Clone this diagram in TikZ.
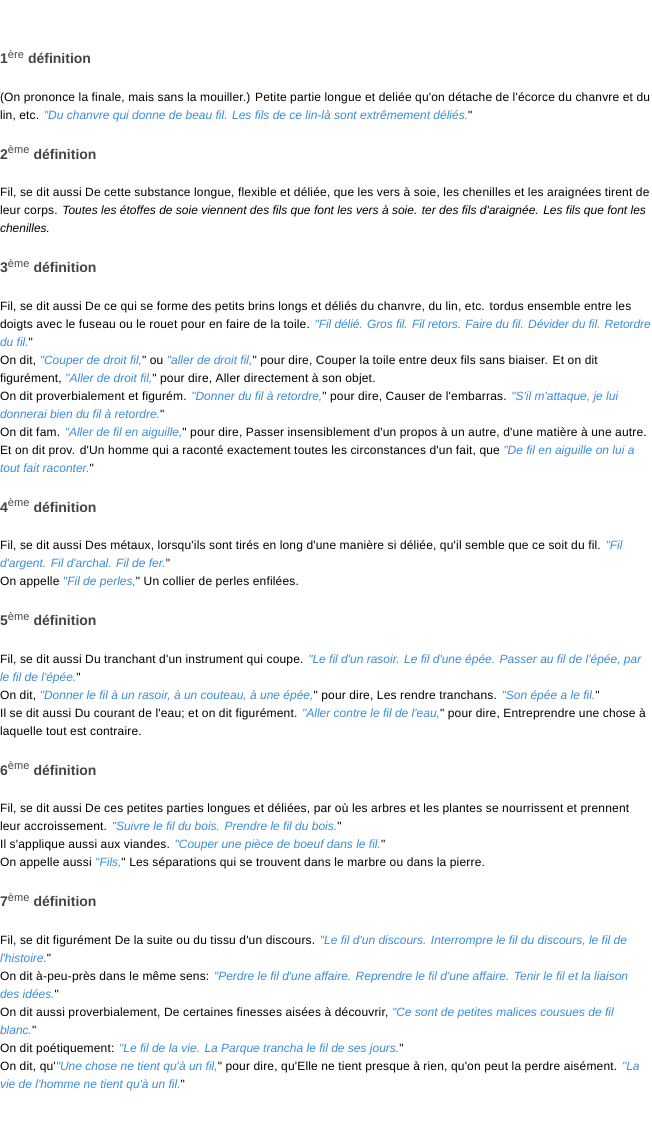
\documentclass[tikz,border=0pt]{standalone}
\usepackage{fontspec}
\setmainfont{Liberation Sans}[Ligatures=TeXOff, UprightFeatures={LetterSpace=1.5}]
\usetikzlibrary{positioning}

\definecolor{headgray}{HTML}{444444}
\definecolor{exblue}{HTML}{3A8DDA}

% quoted examples: blue italic, closing quote in plain text
\newcommand{\ex}[1]{{\color{exblue}\itshape "#1}"}
\newcommand{\exo}[1]{{\color{exblue}\itshape "#1}}
\newcommand{\exc}[1]{{\color{exblue}\itshape #1}"}
\newcommand{\rang}[2]{#1\raisebox{5.5pt}{\fontsize{11}{11}\selectfont\mdseries #2}\hspace{4pt}définition}

\tikzset{
  head/.style={font=\fontsize{14}{16}\selectfont\bfseries, text=headgray,
    inner sep=0pt, outer sep=0pt, text height=11pt, text depth=3pt},
  line/.style={font=\fontsize{12}{18}\selectfont, inner sep=0pt, outer sep=0pt,
    text height=9pt, text depth=3pt},
}

\begin{document}
\begin{tikzpicture}
  \fill[white] (0pt,0pt) rectangle (652pt,-1130pt);
  \useasboundingbox (0pt,0pt) rectangle (652pt,-1130pt);

  \node (d1) [head, anchor=base west] at (0pt,-63.5pt) {\rang{1}{ère}};
  \node (d1a) [line, below right=25.5pt and 0pt of d1.south west] {(On prononce la finale, mais sans la mouiller.) Petite partie longue et deliée qu'on détache de l'écorce du chanvre et du};
  \node (d1b) [line, below right=6pt and 0pt of d1a.south west] {lin, etc. \ex{Du chanvre qui donne de beau fil. Les fils de ce lin-là sont extrêmement déliés.}};

  \node (d2) [head, below right=26pt and 0pt of d1b.south west] {\rang{2}{ème}};
  \node (d2a) [line, below right=25.5pt and 0pt of d2.south west] {Fil, se dit aussi De cette substance longue, flexible et déliée, que les vers à soie, les chenilles et les araignées tirent de};
  \node (d2b) [line, below right=6pt and 0pt of d2a.south west] {leur corps. \textit{Toutes les étoffes de soie viennent des fils que font les vers à soie. ter des fils d'araignée. Les fils que font les}};
  \node (d2c) [line, below right=6pt and 0pt of d2b.south west] {\textit{chenilles.}};

  \node (d3) [head, below right=26pt and 0pt of d2c.south west] {\rang{3}{ème}};
  \node (d3a) [line, below right=25.5pt and 0pt of d3.south west] {Fil, se dit aussi De ce qui se forme des petits brins longs et déliés du chanvre, du lin, etc. tordus ensemble entre les};
  \node (d3b) [line, below right=6pt and 0pt of d3a.south west] {doigts avec le fuseau ou le rouet pour en faire de la toile. {\addfontfeature{LetterSpace=-0.8}\exo{Fil délié. Gros fil. Fil retors. Faire du fil. Dévider du fil. Retordre}}};
  \node (d3c) [line, below right=6pt and 0pt of d3b.south west] {\exc{du fil.}};
  \node (d3d) [line, below right=6pt and 0pt of d3c.south west] {On dit, \ex{Couper de droit fil,} ou \ex{aller de droit fil,} pour dire, Couper la toile entre deux fils sans biaiser. Et on dit};
  \node (d3e) [line, below right=6pt and 0pt of d3d.south west] {figurément, \ex{Aller de droit fil,} pour dire, Aller directement à son objet.};
  \node (d3f) [line, below right=6pt and 0pt of d3e.south west] {On dit proverbialement et figurém. \ex{Donner du fil à retordre,} pour dire, Causer de l'embarras. \exo{S'il m'attaque, je lui}};
  \node (d3g) [line, below right=6pt and 0pt of d3f.south west] {\exc{donnerai bien du fil à retordre.}};
  \node (d3h) [line, below right=6pt and 0pt of d3g.south west] {On dit fam. \ex{Aller de fil en aiguille,} pour dire, Passer insensiblement d'un propos à un autre, d'une matière à une autre.};
  \node (d3i) [line, below right=6pt and 0pt of d3h.south west] {Et on dit prov. d'Un homme qui a raconté exactement toutes les circonstances d'un fait, que \exo{De fil en aiguille on lui a}};
  \node (d3j) [line, below right=6pt and 0pt of d3i.south west] {\exc{tout fait raconter.}};

  \node (d4) [head, below right=26pt and 0pt of d3j.south west] {\rang{4}{ème}};
  \node (d4a) [line, below right=25.5pt and 0pt of d4.south west] {Fil, se dit aussi Des métaux, lorsqu'ils sont tirés en long d'une manière si déliée, qu'il semble que ce soit du fil. \exo{Fil}};
  \node (d4b) [line, below right=6pt and 0pt of d4a.south west] {\exc{d'argent. Fil d'archal. Fil de fer.}};
  \node (d4c) [line, below right=6pt and 0pt of d4b.south west] {On appelle \ex{Fil de perles,} Un collier de perles enfilées.};

  \node (d5) [head, below right=26pt and 0pt of d4c.south west] {\rang{5}{ème}};
  \node (d5a) [line, below right=25.5pt and 0pt of d5.south west] {Fil, se dit aussi Du tranchant d'un instrument qui coupe. \exo{Le fil d'un rasoir. Le fil d'une épée. Passer au fil de l'épée, par}};
  \node (d5b) [line, below right=6pt and 0pt of d5a.south west] {\exc{le fil de l'épée.}};
  \node (d5c) [line, below right=6pt and 0pt of d5b.south west] {On dit, \ex{Donner le fil à un rasoir, à un couteau, à une épée,} pour dire, Les rendre tranchans. \ex{Son épée a le fil.}};
  \node (d5d) [line, below right=6pt and 0pt of d5c.south west] {Il se dit aussi Du courant de l'eau; et on dit figurément. \ex{Aller contre le fil de l'eau,} pour dire, Entreprendre une chose à};
  \node (d5e) [line, below right=6pt and 0pt of d5d.south west] {laquelle tout est contraire.};

  \node (d6) [head, below right=26pt and 0pt of d5e.south west] {\rang{6}{ème}};
  \node (d6a) [line, below right=25.5pt and 0pt of d6.south west] {Fil, se dit aussi De ces petites parties longues et déliées, par où les arbres et les plantes se nourrissent et prennent};
  \node (d6b) [line, below right=6pt and 0pt of d6a.south west] {leur accroissement. \ex{Suivre le fil du bois. Prendre le fil du bois.}};
  \node (d6c) [line, below right=6pt and 0pt of d6b.south west] {Il s'applique aussi aux viandes. \ex{Couper une pièce de boeuf dans le fil.}};
  \node (d6d) [line, below right=6pt and 0pt of d6c.south west] {On appelle aussi \ex{Fils,} Les séparations qui se trouvent dans le marbre ou dans la pierre.};

  \node (d7) [head, below right=26pt and 0pt of d6d.south west] {\rang{7}{ème}};
  \node (d7a) [line, below right=25.5pt and 0pt of d7.south west] {Fil, se dit figurément De la suite ou du tissu d'un discours. \exo{Le fil d'un discours. Interrompre le fil du discours, le fil de}};
  \node (d7b) [line, below right=6pt and 0pt of d7a.south west] {\exc{l'histoire.}};
  \node (d7c) [line, below right=6pt and 0pt of d7b.south west] {On dit à-peu-près dans le même sens: \exo{Perdre le fil d'une affaire. Reprendre le fil d'une affaire. Tenir le fil et la liaison}};
  \node (d7d) [line, below right=6pt and 0pt of d7c.south west] {\exc{des idées.}};
  \node (d7e) [line, below right=6pt and 0pt of d7d.south west] {On dit aussi proverbialement, De certaines finesses aisées à découvrir, \exo{Ce sont de petites malices cousues de fil}};
  \node (d7f) [line, below right=6pt and 0pt of d7e.south west] {\exc{blanc.}};
  \node (d7g) [line, below right=6pt and 0pt of d7f.south west] {On dit poétiquement: \ex{Le fil de la vie. La Parque trancha le fil de ses jours.}};
  \node (d7h) [line, below right=6pt and 0pt of d7g.south west] {On dit, qu'\ex{Une chose ne tient qu'à un fil,} pour dire, qu'Elle ne tient presque à rien, qu'on peut la perdre aisément. \exo{La}};
  \node (d7i) [line, below right=6pt and 0pt of d7h.south west] {\exc{vie de l'homme ne tient qu'à un fil.}};
\end{tikzpicture}
\end{document}
